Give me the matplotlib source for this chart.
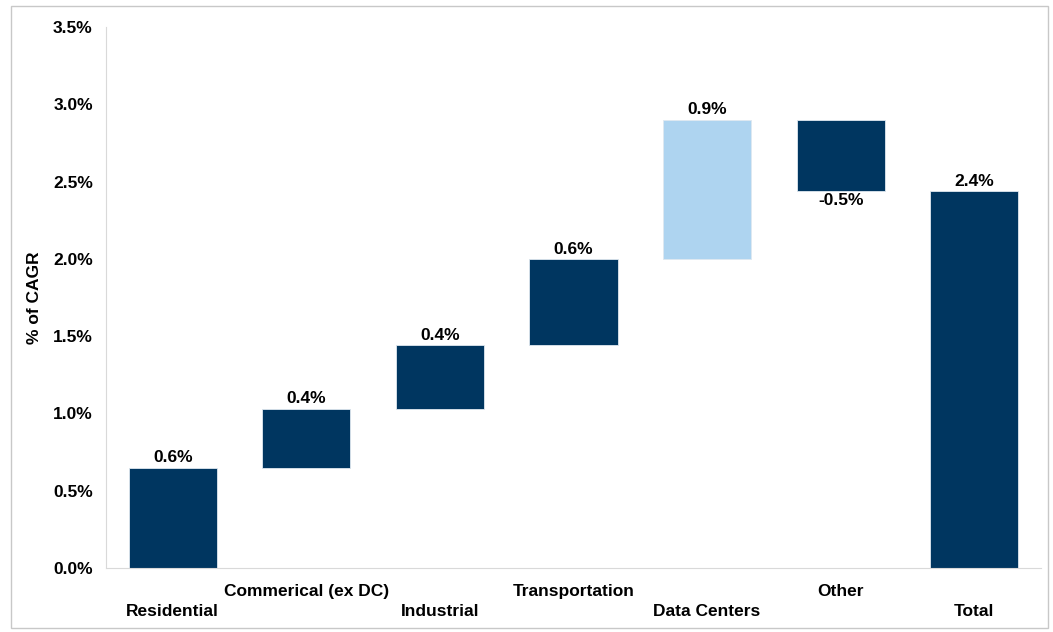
import numpy as np
import matplotlib.pyplot as plt
from matplotlib.patches import Rectangle

plt.rcParams['font.family'] = ['Liberation Sans', 'DejaVu Sans']
plt.rcParams['font.weight'] = 'bold'

categories = ["Residential", "Commerical (ex DC)", "Industrial", "Transportation",
              "Data Centers", "Other", "Total"]
changes = [0.65, 0.38, 0.41, 0.56, 0.90, -0.46]
labels = ["0.6%", "0.4%", "0.4%", "0.6%", "0.9%", "-0.5%", "2.4%"]

navy = "#003660"
light = "#aed4f0"

total = sum(changes)
bottoms = []
heights = []
run = 0
for c in changes:
    if c >= 0:
        bottoms.append(run)
    else:
        bottoms.append(run + c)
    heights.append(abs(c))
    run += c
bottoms.append(0)
heights.append(total)
colors = [navy, navy, navy, navy, light, navy, navy]

fig = plt.figure(figsize=(10.53, 6.32), dpi=100)
ax = fig.add_axes([106/1053, 1-568/632, (1041-106)/1053, (568-27)/632])

x = np.arange(len(categories))
ax.bar(x, heights, bottom=bottoms, width=0.66, color=colors, edgecolor="#dfe8f0", linewidth=0.6)

fs = 12.5
vals = changes + [total]
for i in range(len(categories)):
    if vals[i] >= 0:
        ax.text(x[i], bottoms[i] + heights[i] + 0.015, labels[i], ha='center', va='bottom',
                fontsize=fs, fontweight='bold')
    else:
        ax.text(x[i], bottoms[i] - 0.015, labels[i], ha='center', va='top',
                fontsize=fs, fontweight='bold')

ax.set_xlim(-0.5, 6.5)
ax.set_ylim(0, 3.5)
ax.set_yticks(np.arange(0, 3.51, 0.5))
ax.set_yticklabels([f"{v:.1f}%" for v in np.arange(0, 3.51, 0.5)], fontsize=fs, fontweight='bold')
ax.tick_params(axis='both', length=0)
ax.tick_params(axis='y', pad=9.5)
ax.set_xticks(x)
ax.set_xticklabels([])
for i, name in enumerate(categories):
    off = 31 if i % 2 == 1 else 51
    ax.annotate(name, xy=(x[i], 0), xycoords='data', xytext=(0, -off), textcoords='offset pixels',
                ha='center', va='bottom', fontsize=fs, fontweight='bold')

ax.set_ylabel("% of CAGR", fontsize=fs, fontweight='bold', labelpad=8)
for s in ['top', 'right']:
    ax.spines[s].set_visible(False)
ax.spines['left'].set_color('#d9d9d9')
ax.spines['bottom'].set_color('#d9d9d9')

fig.patches.append(Rectangle((11/1053, 4/632), (1048-11)/1053, (626-4)/632, transform=fig.transFigure,
                             fill=False, edgecolor='#c8c8c8', linewidth=1))

fig.savefig("out.png", dpi=100)
